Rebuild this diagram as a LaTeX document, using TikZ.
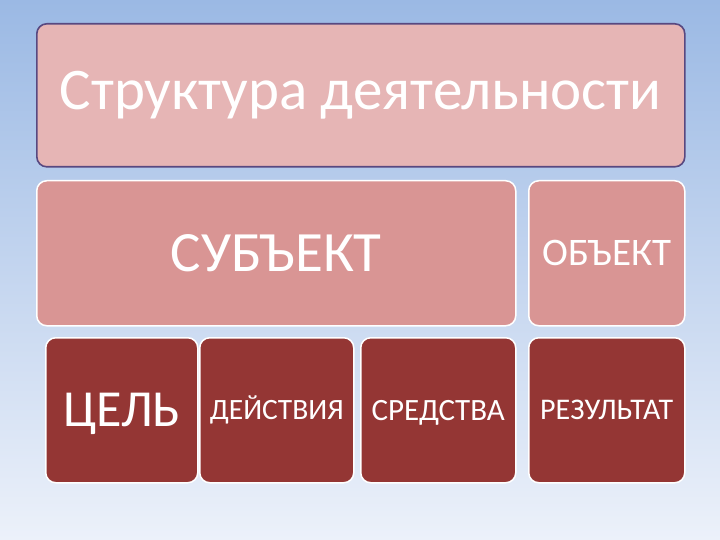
\documentclass[tikz,border=0pt]{standalone}
\usepackage{fontspec}
\setmainfont{Carlito}
\definecolor{bgtop}{RGB}{155,185,228}
\definecolor{bgbot}{RGB}{236,241,250}
\definecolor{titlefill}{RGB}{230,181,181}
\definecolor{titleline}{RGB}{88,72,128}
\definecolor{midfill}{RGB}{217,149,148}
\definecolor{lowfill}{RGB}{148,54,52}
\begin{document}
\begin{tikzpicture}[x=1pt,y=-1pt,
  box/.style={rounded corners=10pt, anchor=north west, inner sep=0pt, text=white, align=center},
  titlebox/.style={box, fill=titlefill, draw=titleline, line width=1.6pt},
  midbox/.style={box, fill=midfill, draw=white, line width=1.5pt},
  lowbox/.style={box, fill=lowfill, draw=white, line width=1.5pt},
  caps/.style={font=\fontsize{#1}{#1}\selectfont, text height=0.644*#1pt, text depth=0pt}]
\shade[top color=bgtop, bottom color=bgbot] (0,0) rectangle (720,540);
\useasboundingbox (0,0) rectangle (720,540);
\node[titlebox, minimum width=648pt, minimum height=143pt, font=\fontsize{59}{64}\selectfont] (title) at (36,23) {Структура деятельности};
\node[midbox, minimum width=479pt, minimum height=145pt, caps=57] (subj) at (36,180) {СУБЪЕКТ};
\node[midbox, minimum width=156pt, minimum height=145pt, caps=39] (obj) at (528,180) {ОБЪЕКТ};
\node[lowbox, minimum width=152pt, minimum height=145pt, caps=52] (goal) at (45,337) {ЦЕЛЬ};
\node[lowbox, minimum width=154pt, minimum height=145pt, caps=29.5] (act) at (199,337) {ДЕЙСТВИЯ};
\node[lowbox, minimum width=155pt, minimum height=145pt, caps=31] (means) at (360,337) {СРЕДСТВА};
\node[lowbox, minimum width=156pt, minimum height=145pt, caps=30] (res) at (528,337) {РЕЗУЛЬТАТ};
\end{tikzpicture}
\end{document}
